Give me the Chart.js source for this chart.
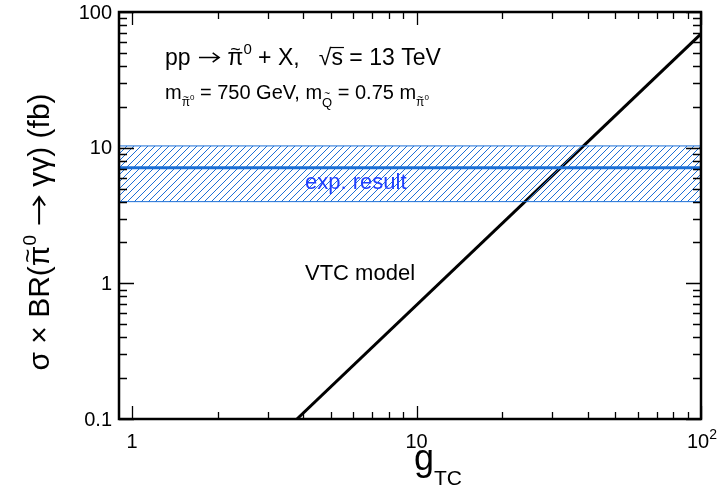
<!DOCTYPE html>
<html>
<head>
<meta charset="utf-8">
<title>VTC pi0 diphoton</title>
<script src="https://cdn.jsdelivr.net/npm/chart.js"></script>
<style>
  body { margin:0; background:#fff; }
  canvas { display:block; }
</style>
</head>
<body>
<canvas id="c" width="717" height="487"></canvas>
<script>
// data
const modelX = [3.8, 100];
const modelY = [0.1, 69];
const bandX = [0.9, 100];
const bandHigh = [10.3, 10.3];
const bandMid = [7.1, 7.1];
const bandLow = [4.0, 4.0];
const xTicks = [1, 10, 100];
const xTickLabels = ['1', '10', '10^2'];
const yTicks = [0.1, 1, 10, 100];
const yTickLabels = ['0.1', '1', '10', '100'];

const FONT = '"Liberation Sans", Arial, sans-serif';
const BLUE = '#1c6fd6';

function pts(xs, ys) { return xs.map((x, i) => ({ x: x, y: ys[i] })); }

// hatch pattern ////
function hatch() {
  const s = 7;
  const c = document.createElement('canvas');
  c.width = s; c.height = s;
  const g = c.getContext('2d');
  g.strokeStyle = BLUE; g.lineWidth = 1;
  g.beginPath();
  g.moveTo(-1, s + 1); g.lineTo(s + 1, -1);
  g.moveTo(-1, 1); g.lineTo(1, -1);
  g.moveTo(s - 1, s + 1); g.lineTo(s + 1, s - 1);
  g.stroke();
  return g.createPattern(c, 'repeat');
}

function font(sz) { return sz + 'px ' + FONT; }

// draw runs of text, each {t, sz, dy, tilde, bar} or {arrow, sz}
function runs(ctx, x, y, list) {
  list.forEach(r => {
    if (r.arrow) {
      const w = r.sz * 1.05, ay = y - r.sz * 0.33, h = r.sz * 0.2;
      ctx.save(); ctx.strokeStyle = ctx.fillStyle; ctx.lineWidth = r.sz / 15;
      ctx.beginPath();
      ctx.moveTo(x + 2, ay); ctx.lineTo(x + w - 2, ay);
      ctx.moveTo(x + w - 2 - h * 1.4, ay - h); ctx.lineTo(x + w - 2, ay); ctx.lineTo(x + w - 2 - h * 1.4, ay + h);
      ctx.stroke(); ctx.restore();
      x += w;
      return;
    }
    ctx.font = font(r.sz);
    ctx.fillText(r.t, x, y + (r.dy || 0));
    const w = ctx.measureText(r.t).width;
    if (r.tilde) {
      const ts = Math.round(r.sz * 0.8);
      ctx.font = font(ts);
      ctx.fillText('~', x + w / 2 - ctx.measureText('~').width / 2, y + (r.dy || 0) - r.sz * r.tilde);
    }
    if (r.bar) {
      ctx.save(); ctx.lineWidth = 1.2; ctx.strokeStyle = ctx.fillStyle;
      ctx.beginPath();
      ctx.moveTo(x - 1, y - r.sz * 0.76); ctx.lineTo(x + w + 1, y - r.sz * 0.76);
      ctx.stroke(); ctx.restore();
    }
    x += w;
  });
  return x;
}
function runsWidth(ctx, list) {
  let w = 0;
  list.forEach(r => {
    if (r.arrow) { w += r.sz * 1.05; return; }
    ctx.font = font(r.sz); w += ctx.measureText(r.t).width;
  });
  return w;
}

const frame = {
  id: 'frame',
  afterDraw(chart) {
    const { ctx, chartArea: a, scales: { x, y } } = chart;
    ctx.save();
    ctx.strokeStyle = '#000';
    ctx.lineWidth = 1.3;
    ctx.beginPath();
    for (let d = 0; d <= 2; d++) {
      for (let m = 1; m < 10; m++) {
        const v = m * Math.pow(10, d);
        if (v < x.min || v > x.max) continue;
        const px = Math.round(x.getPixelForValue(v)) + 0.5;
        const len = m === 1 ? 13 : 7;
        ctx.moveTo(px, a.bottom); ctx.lineTo(px, a.bottom - len);
        ctx.moveTo(px, a.top); ctx.lineTo(px, a.top + len);
      }
    }
    for (let d = -1; d <= 2; d++) {
      for (let m = 1; m < 10; m++) {
        const v = m * Math.pow(10, d);
        if (v < y.min || v > y.max) continue;
        const py = Math.round(y.getPixelForValue(v)) + 0.5;
        const len = m === 1 ? 15 : 8;
        ctx.moveTo(a.left, py); ctx.lineTo(a.left + len, py);
        ctx.moveTo(a.right, py); ctx.lineTo(a.right - len, py);
      }
    }
    ctx.stroke();

    ctx.lineWidth = 2.5;
    ctx.strokeRect(a.left, a.top, a.right - a.left, a.bottom - a.top);

    // tick labels
    ctx.fillStyle = '#000';
    ctx.font = font(20);
    ctx.textAlign = 'right'; ctx.textBaseline = 'middle';
    yTicks.forEach((v, i) => ctx.fillText(yTickLabels[i], a.left - 7, y.getPixelForValue(v) + 1));
    ctx.textBaseline = 'alphabetic';
    xTicks.forEach((v, i) => {
      const px = x.getPixelForValue(v);
      const lab = xTickLabels[i];
      if (lab.indexOf('^') > 0) {
        const [b, e] = lab.split('^');
        const list = [{ t: b, sz: 20 }, { t: e, sz: 14, dy: -9 }];
        ctx.textAlign = 'left';
        runs(ctx, px - runsWidth(ctx, list) / 2 + 1, 448, list);
      } else {
        ctx.textAlign = 'center';
        ctx.font = font(20);
        ctx.fillText(lab, px, 448);
      }
    });

    ctx.textAlign = 'left';
    // x title
    runs(ctx, 414, 470, [{ t: 'g', sz: 36 }, { t: 'TC', sz: 21, dy: 15 }]);

    // y title
    const yt = [
      { t: 'σ × BR(', sz: 30 },
      { t: 'π', sz: 30, tilde: 0.42 },
      { t: '0', sz: 19, dy: -13 },
      { t: ' ', sz: 30 },
      { arrow: true, sz: 30 },
      { t: ' γγ) (fb)', sz: 30 }
    ];
    ctx.save();
    ctx.translate(49, 232);
    ctx.rotate(-Math.PI / 2);
    runs(ctx, -runsWidth(ctx, yt) / 2, 0, yt);
    ctx.restore();

    // header text
    runs(ctx, 165, 65, [
      { t: 'pp ', sz: 23 },
      { arrow: true, sz: 23 },
      { t: ' ', sz: 23 },
      { t: 'π', sz: 23, tilde: 0.42 },
      { t: '0', sz: 15, dy: -11 },
      { t: ' + X,   √', sz: 23 },
      { t: 's', sz: 23, bar: true },
      { t: ' = 13 TeV', sz: 23 }
    ]);
    runs(ctx, 165, 99, [
      { t: 'm', sz: 20 },
      { t: 'π', sz: 12, dy: 7, tilde: 0.45 },
      { t: '0', sz: 8, dy: 1 },
      { t: ' = 750 GeV, m', sz: 20 },
      { t: 'Q', sz: 13, dy: 8, tilde: 0.75 },
      { t: ' = 0.75 m', sz: 20 },
      { t: 'π', sz: 12, dy: 7, tilde: 0.45 },
      { t: '0', sz: 8, dy: 1 }
    ]);

    ctx.fillStyle = '#2040ff';
    ctx.font = font(22);
    ctx.fillText('exp. result', 305, 189);
    ctx.fillStyle = '#000';
    ctx.fillText('VTC model', 305, 280);
    ctx.restore();
  }
};

new Chart(document.getElementById('c'), {
  type: 'scatter',
  data: {
    datasets: [
      { data: pts(bandX, bandHigh), showLine: true, borderColor: BLUE, borderWidth: 1, pointRadius: 0, fill: '+1', backgroundColor: hatch() },
      { data: pts(bandX, bandLow), showLine: true, borderColor: BLUE, borderWidth: 1, pointRadius: 0, fill: false },
      { data: pts(bandX, bandMid), showLine: true, borderColor: BLUE, borderWidth: 3, pointRadius: 0, fill: false },
      { data: pts(modelX, modelY), showLine: true, borderColor: '#000', borderWidth: 3, pointRadius: 0, fill: false }
    ]
  },
  options: {
    responsive: false,
    animation: false,
    layout: { padding: { left: 119, right: 16, top: 12, bottom: 68 } },
    plugins: { legend: { display: false }, tooltip: { enabled: false } },
    scales: {
      x: { type: 'logarithmic', min: 0.9, max: 100, display: false },
      y: { type: 'logarithmic', min: 0.1, max: 100, display: false }
    }
  },
  plugins: [frame]
});
</script>
</body>
</html>
